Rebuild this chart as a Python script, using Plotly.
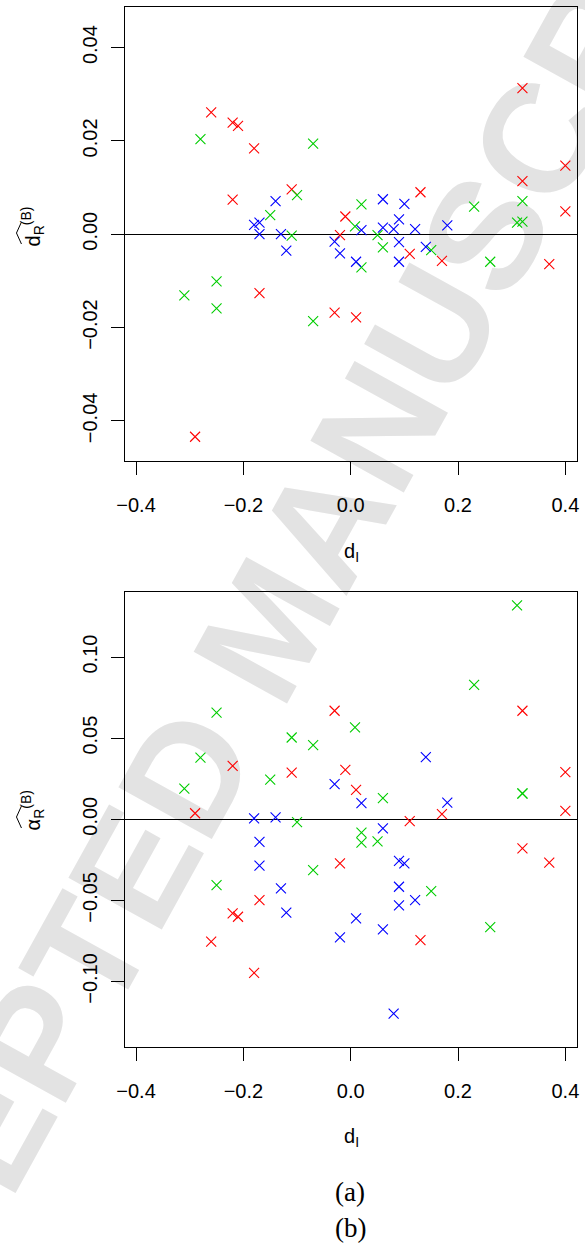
import plotly.graph_objects as go
from plotly.subplots import make_subplots

# ---------------- data ----------------
red_x = [-0.29, -0.26, -0.22, -0.22, -0.21, -0.18, -0.17, -0.11, -0.03, -0.02,
         -0.01, 0.01, 0.11, 0.13, 0.17, 0.32, 0.32, 0.37, 0.40, 0.40]
red_dR = [-0.0434, 0.0261, 0.0239, 0.0074, 0.0232, 0.0184, -0.0126, 0.0096, -0.0168, -0.0002,
          0.0038, -0.0178, -0.0042, 0.0090, -0.0057, 0.0313, 0.0114, -0.0064, 0.0147, 0.0049]
red_aR = [0.0037, -0.0755, 0.0329, -0.0580, -0.0601, -0.0947, -0.0498, 0.0288, 0.0669, -0.0272,
          0.0304, 0.0181, -0.0012, -0.0745, 0.0031, 0.0669, -0.0179, -0.0268, 0.0290, 0.0051]

green_x = [-0.31, -0.28, -0.25, -0.25, -0.15, -0.11, -0.10, -0.07, -0.07, 0.008,
           0.02, 0.02, 0.05, 0.06, 0.15, 0.23, 0.26, 0.31, 0.32, 0.32]
green_dR = [-0.0131, 0.0204, -0.0101, -0.0159, 0.0041, -0.0003, 0.0084, 0.0194, -0.0186, 0.0017,
            0.0064, -0.0071, -0.0002, -0.0028, -0.0034, 0.0059, -0.0059, 0.0025, 0.0071, 0.0027]
green_aR = [0.0189, 0.0380, 0.0658, -0.0406, 0.0245, 0.0504, -0.0018, 0.0457, -0.0313, 0.0566,
            -0.0082, -0.0144, -0.0136, 0.0130, -0.0443, 0.0829, -0.0665, 0.1319, 0.0160, 0.0158]

blue_x = [-0.18, -0.17, -0.17, -0.14, -0.13, -0.12, -0.03, -0.02, 0.01, 0.02,
          0.06, 0.06, 0.08, 0.09, 0.09, 0.09, 0.10, 0.12, 0.14, 0.18]
blue_dR = [0.0020, 0.0025, 0.0000, 0.0071, 0.0000, -0.0035, -0.0016, -0.0041, -0.0059, 0.0009,
           0.0075, 0.0014, 0.0011, 0.0032, -0.0017, -0.0059, 0.0065, 0.0011, -0.0027, 0.0019]
blue_aR = [0.0006, -0.0140, -0.0286, 0.0012, -0.0426, -0.0576, 0.0216, -0.0728, -0.0611, 0.0099,
           -0.0056, -0.0679, -0.1198, -0.0257, -0.0416, -0.0531, -0.0272, -0.0498, 0.0383, 0.0103]

x_ticks = [-0.4, -0.2, 0.0, 0.2, 0.4]
top_y_ticks = [-0.04, -0.02, 0.0, 0.02, 0.04]
bot_y_ticks = [-0.10, -0.05, 0.0, 0.05, 0.10]

series = [("#FF0000", red_x, red_dR, red_aR),
          ("#00CD00", green_x, green_dR, green_aR),
          ("#0000FF", blue_x, blue_dR, blue_aR)]

# ---------------- layout geometry ----------------
W, H = 585, 1247
ML, MR, MT, MB = 125, 6, 7, 200
PW, PH = W - ML - MR, H - MT - MB


def px2x(px):
    return (px - ML) / PW


def py2y(py):
    return 1 - (py - MT) / PH


fig = make_subplots(rows=2, cols=1, vertical_spacing=0.0)

for color, xs, ya, yb in series:
    mk = dict(symbol="x-thin", size=10, color=color, line=dict(width=1.1, color=color))
    fig.add_trace(go.Scatter(x=xs, y=ya, mode="markers", marker=mk, showlegend=False,
                             hoverinfo="skip"), row=1, col=1)
    fig.add_trace(go.Scatter(x=xs, y=yb, mode="markers", marker=mk, showlegend=False,
                             hoverinfo="skip"), row=2, col=1)

FONT = "Liberation Sans, Arial, sans-serif"
axis_common = dict(showline=True, mirror=True, linecolor="black", linewidth=1,
                   ticks="outside", ticklen=13, tickwidth=1, tickcolor="black",
                   showgrid=False, tickfont=dict(family=FONT, size=20, color="black"))

fig.update_xaxes(range=[-0.4206, 0.4217], tickvals=x_ticks, tickformat=".1f",
                 zeroline=False, ticklabelstandoff=13, **axis_common)
fig.update_yaxes(tickangle=-90, tickformat=".2f", zeroline=True, zerolinecolor="black",
                 zerolinewidth=1, ticklabelstandoff=6, **axis_common)

fig.update_layout(
    width=W, height=H,
    margin=dict(l=ML, r=MR, t=MT, b=MB),
    paper_bgcolor="white", plot_bgcolor="rgba(0,0,0,0)",
    xaxis=dict(domain=[0, 1], anchor="y"),
    xaxis2=dict(domain=[0, 1], anchor="y2"),
    yaxis=dict(domain=[py2y(461), 1.0], range=[-0.0486, 0.0487], tickvals=top_y_ticks),
    yaxis2=dict(domain=[0.0, py2y(592)], range=[-0.1404, 0.1401], tickvals=bot_y_ticks),
)

annotations = []
# x axis titles
for cy in (552, 1137):
    annotations.append(dict(text="d<sub>I</sub>", x=px2x(353), y=py2y(cy), xref="paper",
                            yref="paper", showarrow=False, xanchor="center", yanchor="middle",
                            font=dict(family=FONT, size=20, color="black")))
# y axis titles
annotations.append(dict(text="d<sub>R</sub><sup>(B)</sup>", x=px2x(32), y=py2y(226),
                        xref="paper", yref="paper", showarrow=False, textangle=-90,
                        xanchor="center", yanchor="middle",
                        font=dict(family=FONT, size=20, color="black")))
annotations.append(dict(text="α<sub>R</sub><sup>(B)</sup>", x=px2x(32), y=py2y(810),
                        xref="paper", yref="paper", showarrow=False, textangle=-90,
                        xanchor="center", yanchor="middle",
                        font=dict(family=FONT, size=20, color="black")))
# sub-figure captions
for cap, cy in (("(a)", 1192), ("(b)", 1228)):
    annotations.append(dict(text=cap, x=px2x(351), y=py2y(cy), xref="paper", yref="paper",
                            showarrow=False, xanchor="center", yanchor="middle",
                            font=dict(family="Liberation Serif, DejaVu Serif, serif", size=27,
                                      color="black")))
fig.update_layout(annotations=annotations)

shapes = []
# hats over the y-axis titles
for cy in (226, 810):
    y0 = cy + 18
    y1 = cy - 4
    path = (f"M {px2x(21)},{py2y(y0)} L {px2x(16)},{py2y((y0 + y1) / 2)} "
            f"L {px2x(21)},{py2y(y1)}")
    shapes.append(dict(type="path", path=path, xref="paper", yref="paper",
                       line=dict(color="black", width=1)))
# watermark (behind the plots)
cx, cy = 256, 619
shapes.append(dict(type="line", xref="paper", yref="paper",
                   x0=px2x(cx - 24), y0=py2y(cy + 44), x1=px2x(cx + 24), y1=py2y(cy - 44),
                   line=dict(width=0, color="rgba(0,0,0,0)"), layer="below",
                   label=dict(text="<b>ACCEPTED MANUSCRIPT</b>", textangle=-61,
                              textposition="middle", yanchor="middle",
                              font=dict(family=FONT, size=155, color="#e3e3e3"))))
fig.update_layout(shapes=shapes)

fig.write_html("out.html", config={"displayModeBar": False},
               post_script="document.body.style.margin='0px';")
